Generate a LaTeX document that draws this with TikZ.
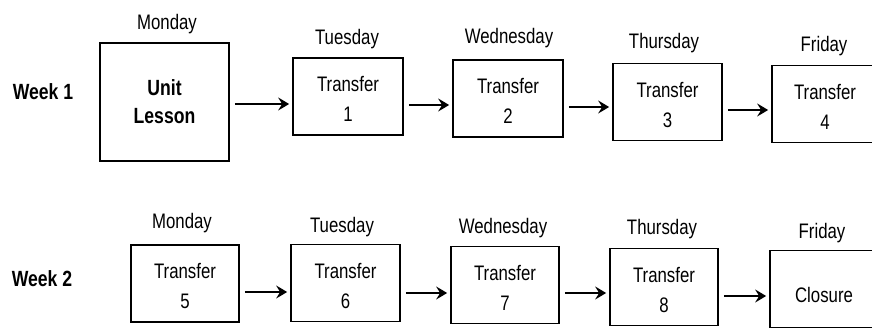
\documentclass[tikz,border=0pt]{standalone}
\usepackage{fontspec}
\setmainfont{Liberation Sans}[FakeStretch=0.8]
\usetikzlibrary{arrows.meta}
\begin{document}
\begin{tikzpicture}[x=1pt,y=-1pt,
  box/.style={draw,line width=1.7pt,align=center,inner sep=0pt,
    minimum height=77pt,font=\fontsize{21}{30}\selectfont},
  tbox/.style={box,text height=51pt},
  day/.style={anchor=base,font=\fontsize{21}{24}\selectfont},
  week/.style={anchor=base,font=\bfseries\fontsize{22}{26}\selectfont},
  arr/.style={line width=2.8pt,-{Stealth[length=11pt,width=13pt,inset=4pt]}}]
\useasboundingbox (0,0) rectangle (872,328);

% Week 1
\node[week] (w1) at (43,100) {Week 1};
\node[box,minimum width=129pt,minimum height=118pt,
  font=\bfseries\fontsize{22}{28}\selectfont] (ul) at (164.5,102) {Unit\\Lesson};
\node[tbox,minimum width=110pt] (t1) at (348,96.5) {Transfer\\1};
\node[tbox,minimum width=110pt] (t2) at (508,98.5) {Transfer\\2};
\node[tbox,minimum width=109pt] (t3) at (667.5,102) {Transfer\\3};
\node[tbox,minimum width=106pt] (t4) at (825,104) {Transfer\\4};

\node[day] (d1) at (167,30) {Monday};
\node[day] (d2) at (347,45) {Tuesday};
\node[day] (d3) at (509,44) {Wednesday};
\node[day] (d4) at (664,49) {Thursday};
\node[day] (d5) at (824,52) {Friday};

% Week 2
\node[week] (w2) at (42,287) {Week 2};
\node[tbox,minimum width=108pt] (t5) at (185,283.5) {Transfer\\5};
\node[tbox,minimum width=109pt] (t6) at (345.5,283) {Transfer\\6};
\node[tbox,minimum width=108pt] (t7) at (505,285) {Transfer\\7};
\node[tbox,minimum width=108pt] (t8) at (664,287) {Transfer\\8};
\node[box,minimum width=108pt,text height=27pt] (cl) at (824,289) {Closure};

\node[day] (e1) at (182,229) {Monday};
\node[day] (e2) at (342,233) {Tuesday};
\node[day] (e3) at (503,234) {Wednesday};
\node[day] (e4) at (662,235) {Thursday};
\node[day] (e5) at (822,239) {Friday};

% connectors, each a little below the centre of the box it enters
\foreach \a/\b/\o in {ul/t1/7.5, t1/t2/6.5, t2/t3/5, t3/t4/6,
                      t5/t6/9, t6/t7/8, t7/t8/6, t8/cl/7}{
  \coordinate (e) at ([yshift=-\o pt]\b.west);
  \draw[arr] ([xshift=5pt]\a.east |- e) -- ([xshift=-3pt]e);
}
\end{tikzpicture}
\end{document}
